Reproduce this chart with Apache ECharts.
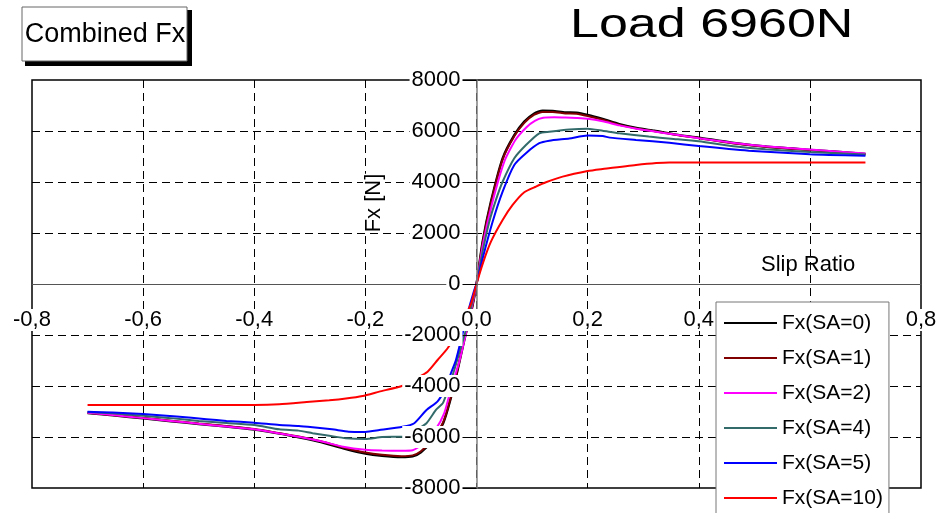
<!DOCTYPE html>
<html>
<head>
<meta charset="utf-8">
<script src="https://cdn.jsdelivr.net/npm/echarts@6/dist/echarts.min.js"></script>
<style>
  html, body { margin: 0; padding: 0; background: #fff; }
  #chart { width: 942px; height: 513px; }
</style>
</head>
<body>
<div id="chart"></div>
<script>
// Longitudinal force vs. slip ratio at several slip angles, 6960 N vertical load.
const seriesNames = ['Fx(SA=0)', 'Fx(SA=1)', 'Fx(SA=2)', 'Fx(SA=4)', 'Fx(SA=5)', 'Fx(SA=10)'];
const seriesColors = ['#000000', '#800000', '#ff00ff', '#336b6b', '#0000ff', '#ff0000'];

// [slip ratio, Fx in N]
const fxSA0 = [
  [-0.70, -5060], [-0.65, -5160], [-0.60, -5270], [-0.55, -5380], [-0.50, -5490], [-0.45, -5590],
  [-0.40, -5710], [-0.36, -5850], [-0.32, -6010], [-0.28, -6200], [-0.24, -6440], [-0.20, -6650],
  [-0.17, -6740], [-0.135, -6790], [-0.115, -6760], [-0.10, -6600], [-0.08, -6150], [-0.06, -5460],
  [-0.048, -4620], [-0.034, -3370], [-0.022, -2200], [-0.010, -1150], [0, 0],
  [0.011, 1660], [0.026, 3230], [0.047, 4930], [0.068, 5840], [0.086, 6370], [0.104, 6690],
  [0.119, 6800], [0.137, 6790], [0.16, 6730], [0.18, 6720], [0.20, 6630], [0.227, 6470],
  [0.257, 6270], [0.29, 6110], [0.32, 6010], [0.36, 5860], [0.40, 5740], [0.46, 5540],
  [0.52, 5390], [0.60, 5260], [0.70, 5100]
];
const fxSA1 = [
  [-0.70, -5050], [-0.65, -5150], [-0.60, -5250], [-0.55, -5360], [-0.50, -5470], [-0.45, -5570],
  [-0.40, -5690], [-0.36, -5830], [-0.32, -5980], [-0.28, -6170], [-0.24, -6410], [-0.20, -6610],
  [-0.17, -6700], [-0.135, -6750], [-0.115, -6720], [-0.10, -6560], [-0.08, -6110], [-0.06, -5420],
  [-0.048, -4580], [-0.034, -3340], [-0.022, -2170], [-0.010, -1130], [0, 0],
  [0.011, 1620], [0.026, 3190], [0.047, 4880], [0.068, 5790], [0.086, 6320], [0.104, 6640],
  [0.119, 6750], [0.137, 6750], [0.16, 6690], [0.18, 6680], [0.20, 6590], [0.227, 6440],
  [0.257, 6240], [0.29, 6090], [0.32, 5990], [0.36, 5840], [0.40, 5720], [0.46, 5520],
  [0.52, 5380], [0.60, 5250], [0.70, 5090]
];
const fxSA2 = [
  [-0.70, -5050], [-0.65, -5150], [-0.60, -5260], [-0.55, -5370], [-0.50, -5480], [-0.45, -5590],
  [-0.40, -5700], [-0.36, -5840], [-0.32, -5990], [-0.28, -6170], [-0.24, -6380], [-0.20, -6500],
  [-0.17, -6530], [-0.135, -6540], [-0.115, -6520], [-0.095, -6250], [-0.075, -5750], [-0.058, -5060],
  [-0.045, -4030], [-0.031, -3050], [-0.019, -1940], [-0.008, -850], [0, 0],
  [0.012, 1600], [0.028, 3150], [0.05, 4800], [0.07, 5650], [0.09, 6150], [0.105, 6400],
  [0.12, 6520], [0.14, 6540], [0.16, 6530], [0.18, 6510], [0.20, 6480], [0.227, 6380],
  [0.257, 6220], [0.29, 6080], [0.32, 5980], [0.36, 5850], [0.40, 5720], [0.46, 5540],
  [0.52, 5400], [0.60, 5270], [0.70, 5120]
];
const fxSA4 = [
  [-0.70, -5020], [-0.65, -5080], [-0.60, -5170], [-0.55, -5260], [-0.50, -5370], [-0.45, -5450],
  [-0.40, -5530], [-0.355, -5700], [-0.32, -5750], [-0.295, -5850], [-0.265, -5950], [-0.235, -6050],
  [-0.20, -6080], [-0.17, -6000], [-0.133, -5990], [-0.112, -5760], [-0.09, -5460], [-0.073, -4940],
  [-0.06, -4650], [-0.04, -3370], [-0.028, -2460], [-0.019, -1800], [-0.004, -370], [0, 0],
  [0.011, 1270], [0.023, 2440], [0.035, 3300], [0.047, 4010], [0.068, 4930], [0.089, 5450],
  [0.113, 5910], [0.131, 5970], [0.167, 6060], [0.20, 6090], [0.227, 6010], [0.257, 5910],
  [0.31, 5780], [0.35, 5700], [0.40, 5600], [0.467, 5390], [0.52, 5280], [0.60, 5180], [0.70, 5080]
];
const fxSA5 = [
  [-0.70, -5010], [-0.655, -5040], [-0.60, -5100], [-0.54, -5200], [-0.486, -5300], [-0.45, -5370],
  [-0.40, -5440], [-0.355, -5530], [-0.32, -5570], [-0.295, -5620], [-0.26, -5700], [-0.23, -5790],
  [-0.20, -5800], [-0.175, -5730], [-0.133, -5600], [-0.112, -5460], [-0.09, -4940], [-0.07, -4600],
  [-0.056, -4100], [-0.046, -3500], [-0.037, -2980], [-0.025, -1940], [-0.016, -1150], [-0.004, -240], [0, 0],
  [0.011, 1000], [0.029, 2440], [0.047, 3620], [0.068, 4670], [0.089, 5130], [0.113, 5520],
  [0.131, 5620], [0.167, 5710], [0.20, 5820], [0.227, 5800], [0.24, 5740], [0.287, 5650],
  [0.347, 5540], [0.40, 5410], [0.49, 5230], [0.60, 5090], [0.70, 5030]
];
const fxSA10 = [
  [-0.70, -4745], [-0.60, -4745], [-0.50, -4745], [-0.40, -4745], [-0.355, -4720], [-0.30, -4620],
  [-0.265, -4560], [-0.235, -4490], [-0.205, -4390], [-0.175, -4220], [-0.133, -3990], [-0.11, -3720],
  [-0.088, -3440], [-0.07, -2980], [-0.052, -2520], [-0.035, -1900], [-0.02, -1250], [-0.0095, -760], [0, 0],
  [0.012, 850], [0.026, 1660], [0.047, 2510], [0.065, 3100], [0.086, 3600], [0.107, 3820],
  [0.125, 3990], [0.155, 4210], [0.20, 4430], [0.227, 4510], [0.287, 4670], [0.347, 4760],
  [0.40, 4760], [0.50, 4760], [0.60, 4760], [0.70, 4760]
];
const seriesData = [fxSA0, fxSA1, fxSA2, fxSA4, fxSA5, fxSA10];

// Axis ticks
const slipTicks = [-0.8, -0.6, -0.4, -0.2, 0, 0.2, 0.4, 0.6, 0.8];
const fxTicks = [-8000, -6000, -4000, -2000, 0, 2000, 4000, 6000, 8000];

const FONT = "'Liberation Sans', Arial, sans-serif";
const CHART_W = 942, CHART_H = 513;
const GRID = { left: 32, top: 80, right: 21, bottom: 25 };

const chart = echarts.init(document.getElementById('chart'), null, { renderer: 'canvas' });

const slipFmt = v => (Math.round(v * 10) / 10).toFixed(1).replace('.', ',');
const fxFmt = v => String(Math.round(v));

const gridDash = { color: '#000', width: 1, type: [8, 5] };
const slipMin = slipTicks[0], slipMax = slipTicks[slipTicks.length - 1];
const fxMin = fxTicks[0], fxMax = fxTicks[fxTicks.length - 1];
const slipRange = { min: slipMin, max: slipMax, interval: 0.2 };
const fxRange = { min: fxMin, max: fxMax, interval: 2000 };

// The labelled axes cross at the origin: shift them inward from the plot edges.
const plotW = CHART_W - GRID.left - GRID.right;
const plotH = CHART_H - GRID.top - GRID.bottom;
const yAxisShift = -plotW * (0 - slipMin) / (slipMax - slipMin);
const xAxisShift = -plotH * (0 - fxMin) / (fxMax - fxMin);

const option = {
  animation: false,
  backgroundColor: '#fff',
  textStyle: { fontFamily: FONT },
  grid: Object.assign({
    containLabel: false, outerBoundsMode: 'none',
    show: true, borderColor: '#000', borderWidth: 1.5, backgroundColor: 'transparent'
  }, GRID),
  xAxis: [
    // crossing axis with labels, drawn above the curves
    Object.assign({
      type: 'value', z: 10, position: 'bottom', offset: xAxisShift,
      axisLine: { show: true, onZero: false, lineStyle: { color: '#555', width: 1 } },
      axisTick: { show: false },
      splitLine: { show: false },
      axisLabel: {
        show: true, showMinLabel: true, showMaxLabel: true, hideOverlap: false,
        margin: 25, fontSize: 22, color: '#000', fontFamily: FONT,
        backgroundColor: '#fff', padding: [0, 2],
        formatter: slipFmt
      }
    }, slipRange),
    // dashed grid only, below the curves
    Object.assign({
      type: 'value', z: 0,
      axisLine: { show: false, onZero: false },
      axisTick: { show: false },
      axisLabel: { show: false },
      splitLine: { show: true, showMinLine: false, showMaxLine: false, lineStyle: gridDash }
    }, slipRange)
  ],
  yAxis: [
    Object.assign({
      type: 'value', z: 10, position: 'left', offset: yAxisShift,
      axisLine: { show: true, onZero: false, lineStyle: { color: '#808080', width: 1.5 } },
      axisTick: { show: true, length: 15, lineStyle: { color: '#000', width: 1 } },
      splitLine: { show: false },
      axisLabel: {
        show: true, showMinLabel: true, showMaxLabel: true, hideOverlap: false,
        margin: 14, fontSize: 22, color: '#000', fontFamily: FONT,
        backgroundColor: '#fff', padding: [0, 2],
        formatter: fxFmt
      }
    }, fxRange),
    Object.assign({
      type: 'value', z: 0,
      axisLine: { show: false, onZero: false },
      axisTick: { show: false },
      axisLabel: { show: false },
      splitLine: { show: true, showMinLine: false, showMaxLine: false, lineStyle: gridDash }
    }, fxRange)
  ],
  legend: {
    z: 20,
    orient: 'vertical',
    left: 716, top: 302, height: 230,
    padding: [9, 6, 9, 8],
    itemGap: 11,
    itemWidth: 53, itemHeight: 2,
    icon: 'rect',
    selectedMode: false,
    backgroundColor: '#fff',
    borderColor: '#777', borderWidth: 1,
    textStyle: { fontSize: 21, color: '#000', fontFamily: FONT, lineHeight: 24 },
    data: seriesNames
  },
  series: seriesNames.map((name, i) => ({
    name,
    type: 'line',
    xAxisIndex: 0, yAxisIndex: 0,
    data: seriesData[i],
    symbol: 'none',
    showSymbol: false,
    smooth: 0.2,
    color: seriesColors[i],
    lineStyle: { color: seriesColors[i], width: i === 0 ? 2.4 : 2 }
  })),
  graphic: [
    { type: 'rect', shape: { x: 25, y: 10, width: 167, height: 56 }, style: { fill: '#000' }, z: 30 },
    { type: 'rect', shape: { x: 22, y: 7, width: 165, height: 54 }, style: { fill: '#fff', stroke: '#666', lineWidth: 1 }, z: 31 },
    {
      type: 'text', x: 105, y: 34.5, z: 32,
      style: { text: 'Combined Fx', font: "27px " + FONT, fill: '#000', align: 'center', verticalAlign: 'middle' }
    },
    {
      type: 'text', x: 570, y: 26, scaleX: 1.3, z: 32,
      style: { text: 'Load 6960N', font: "40px " + FONT, fill: '#000', align: 'left', verticalAlign: 'middle' }
    },
    {
      type: 'text', x: 374, y: 203, rotation: Math.PI / 2, z: 12,
      style: { text: 'Fx [N]', font: "22px " + FONT, fill: '#000', align: 'center', verticalAlign: 'middle', backgroundColor: '#fff' }
    },
    {
      type: 'text', x: 761, y: 265, z: 12,
      style: { text: 'Slip Ratio', font: "22px " + FONT, fill: '#000', align: 'left', verticalAlign: 'middle' }
    }
  ]
};

chart.setOption(option);
</script>
</body>
</html>
